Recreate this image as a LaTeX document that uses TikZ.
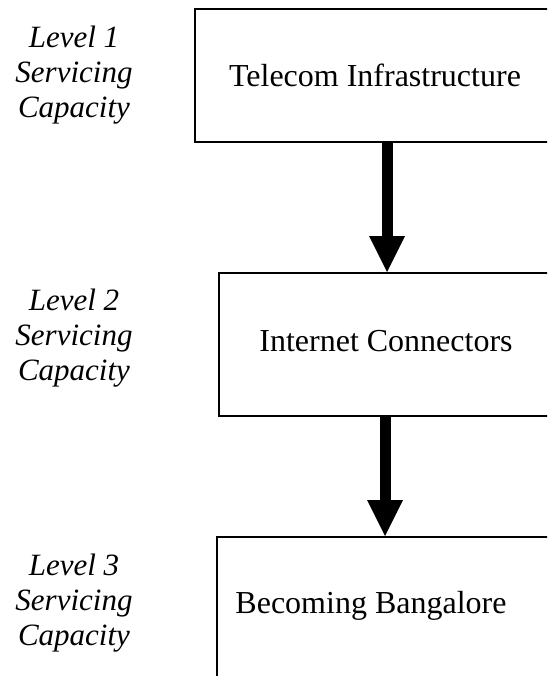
\documentclass[tikz,border=0pt]{standalone}
\usepackage{fontspec}
\setmainfont{Liberation Serif}
\usetikzlibrary{positioning,arrows.meta}

\tikzset{
  levelbox/.style={draw, line width=1.6pt, rectangle, anchor=north west, inner sep=0pt},
  boxtext/.style={anchor=base, font=\fontsize{32}{38}\selectfont},
  leveltag/.style={align=center, font=\fontsize{31}{35}\selectfont\itshape},
  flow/.style={line width=11pt, -{Triangle[width=36pt,length=36pt,line width=0pt]}}
}

\begin{document}
\begin{tikzpicture}[x=1pt, y=-1pt]
	\useasboundingbox (0,0) rectangle (547,676);
	\clip (0,0) rectangle (547,676);

	% boxes run off the right (and bottom) edge
	\node[levelbox, minimum width=380pt, minimum height=133pt] (infra) at (194,8) {};
	\node[levelbox, minimum width=360pt, minimum height=143pt] (inet) at (218,272) {};
	\node[levelbox, minimum width=360pt, minimum height=170pt] (blr) at (216,536) {};

	\node[boxtext] (infratext) at ([xshift=181pt, yshift=-79pt]infra.north west) {Telecom Infrastructure};
	\node[boxtext] (inettext) at ([xshift=168pt, yshift=-79pt]inet.north west) {Internet Connectors};
	\node[boxtext] (blrtext) at ([xshift=155pt, yshift=-77pt]blr.north west) {Becoming Bangalore};

	\node[leveltag] (lvl1) at (74,75) {Level 1\\Servicing\\Capacity};
	\node[leveltag] (lvl2) at (74,338) {Level 2\\Servicing\\Capacity};
	\node[leveltag] (lvl3) at (74,603) {Level 3\\Servicing\\Capacity};

	\draw[flow] ([xshift=193pt]infra.south west) -- ([xshift=169pt]inet.north west);
	\draw[flow] ([xshift=167pt]inet.south west) -- ([xshift=169pt]blr.north west);
\end{tikzpicture}
\end{document}
